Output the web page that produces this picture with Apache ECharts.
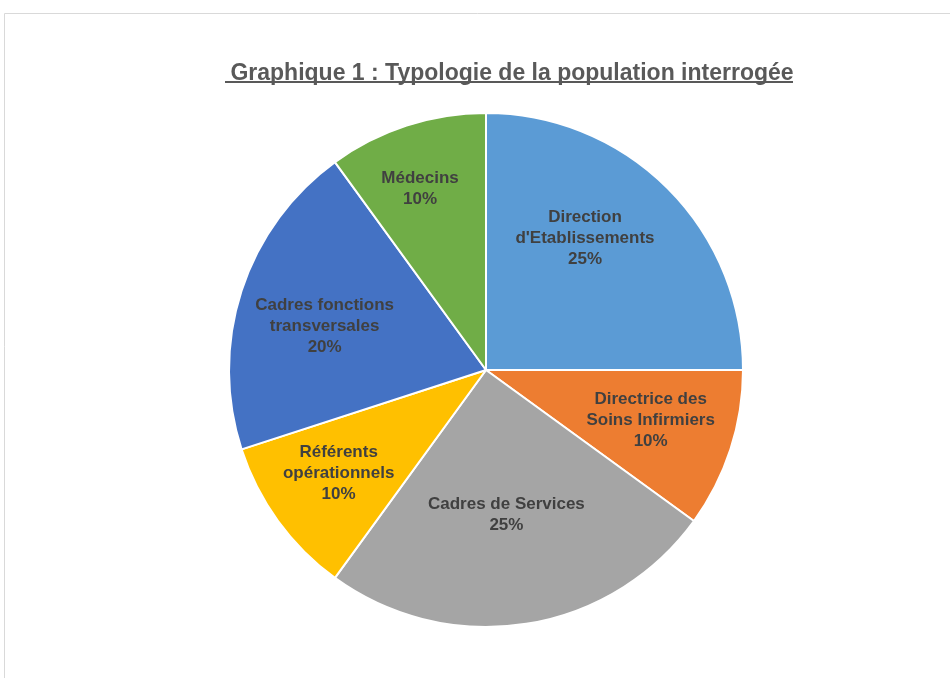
<!DOCTYPE html>
<html><head><meta charset="utf-8">
<script src="https://cdn.jsdelivr.net/npm/echarts@6/dist/echarts.min.js"></script>
<style>html,body{margin:0;padding:0;background:#fff}#c{width:950px;height:678px}</style>
</head><body><div id="c"></div>
<script>
const categories = ["Direction\nd'Etablissements", "Directrice des\nSoins Infirmiers", "Cadres de Services", "Référents\nopérationnels", "Cadres fonctions\ntransversales", "Médecins"];
const values = [25, 10, 25, 10, 20, 10];
const colors = ["#5B9BD5", "#ED7D31", "#A5A5A5", "#FFC000", "#4472C4", "#70AD47"];
const labelRadiusRatio = [0.64, 0.67, 0.57, 0.70, 0.65, 0.75];
const labelAngleShift = [8, 1, -1, -1, 3, 2];

const CX = 486, CY = 370, R = 257;
const total = values.reduce((a, b) => a + b, 0);
const mids = [];
let acc = 0;
values.forEach(v => { mids.push(90 - (acc + v / 2) / total * 360); acc += v; });

const chart = echarts.init(document.getElementById('c'));
chart.setOption({
  animation: false,
  title: {
    text: 'Graphique 1 : Typologie de la population interrogée',
    left: 507, top: 57, textAlign: 'center',
    textStyle: { fontFamily: 'Liberation Sans, Arial', fontSize: 23, fontWeight: 'bold', color: '#595959' }
  },
  graphic: [
    { type: 'rect', shape: { x: 4.5, y: 13.5, width: 1000, height: 1000 }, style: { fill: 'none', stroke: '#d9d9d9', lineWidth: 1 }, silent: true },
    { type: 'rect', shape: { x: 225, y: 81, width: 568, height: 2 }, style: { fill: '#595959' }, silent: true }
  ],
  series: [{
    type: 'pie',
    center: [CX, CY],
    radius: [0, R],
    startAngle: 90,
    clockwise: true,
    avoidLabelOverlap: false,
    itemStyle: { borderColor: '#fff', borderWidth: 2 },
    label: {
      show: true, position: 'inside',
      formatter: p => p.name + '\n' + p.value + '%',
      fontFamily: 'Liberation Sans, Arial', fontSize: 17, fontWeight: 'bold',
      color: '#404040', lineHeight: 21, align: 'center'
    },
    labelLine: { show: false },
    labelLayout: p => {
      const i = p.dataIndex;
      const a = (mids[i] + labelAngleShift[i]) * Math.PI / 180;
      const r = R * labelRadiusRatio[i];
      return { x: CX + r * Math.cos(a), y: CY - r * Math.sin(a), align: 'center', verticalAlign: 'middle' };
    },
    emphasis: { disabled: true },
    data: categories.map((c, i) => ({ name: c, value: values[i], itemStyle: { color: colors[i] } }))
  }]
});
</script></body></html>
